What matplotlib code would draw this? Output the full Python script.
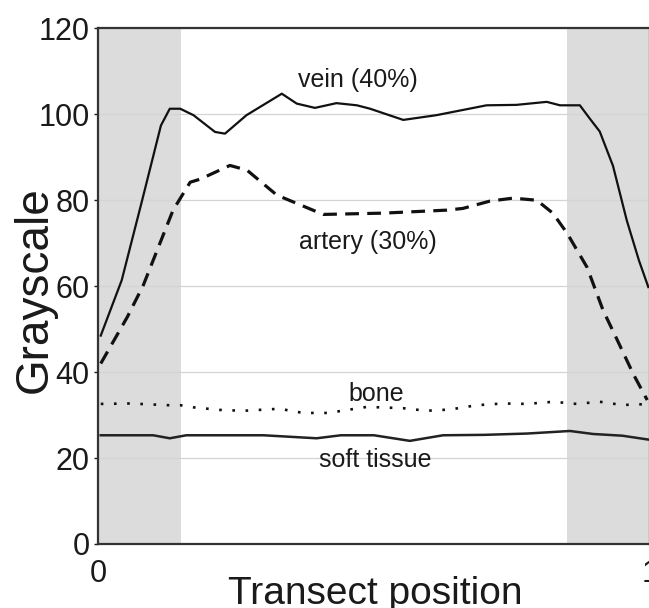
import matplotlib
matplotlib.use("Agg")
import matplotlib.pyplot as plt

plt.rcParams['font.family'] = ['Liberation Sans', 'DejaVu Sans']

# ---- data ----
vein_x = [0.005, 0.043, 0.08, 0.114, 0.13, 0.149, 0.173, 0.212, 0.23, 0.269, 0.333,
          0.36, 0.393, 0.432, 0.469, 0.493, 0.553, 0.613, 0.704, 0.758, 0.813, 0.837,
          0.873, 0.891, 0.909, 0.933, 0.958, 0.98, 0.997]
vein_y = [48.5, 61.4, 80, 97.4, 101.3, 101.3, 99.8, 95.9, 95.5, 99.8, 104.8,
          102.5, 101.5, 102.6, 102.1, 101.3, 98.7, 99.8, 102.1, 102.2, 102.9, 102.1,
          102.1, 99, 96, 88, 75.3, 66, 59.8]

artery_x = [0.005, 0.053, 0.082, 0.136, 0.167, 0.185, 0.239, 0.27, 0.324, 0.408, 0.516,
            0.632, 0.661, 0.71, 0.752, 0.795, 0.824, 0.85, 0.886, 0.915, 0.941, 0.97, 0.995]
artery_y = [42, 52.8, 60.2, 77.7, 84.2, 84.9, 88.1, 87, 81.2, 76.7, 77,
            77.7, 78.1, 79.8, 80.5, 80, 77, 72.3, 64.4, 54.4, 47.4, 39.5, 33.5]

bone_x = [0.005, 0.058, 0.127, 0.149, 0.173, 0.221, 0.263, 0.306, 0.33, 0.348, 0.372,
          0.417, 0.457, 0.487, 0.511, 0.553, 0.595, 0.638, 0.686, 0.734, 0.777, 0.825,
          0.867, 0.909, 0.952, 0.976, 0.997]
bone_y = [32.6, 32.7, 32.3, 32.3, 31.8, 31.2, 31, 31.3, 31.5, 31, 30.5,
          30.5, 31.3, 31.9, 31.8, 31.6, 31, 31.3, 32.3, 32.7, 32.6, 33.1,
          32.6, 33.1, 32.3, 32.6, 32.3]

soft_x = [0.005, 0.1, 0.13, 0.16, 0.3, 0.396, 0.44, 0.5, 0.565, 0.625, 0.7, 0.777,
          0.855, 0.897, 0.95, 0.997]
soft_y = [25.3, 25.3, 24.6, 25.3, 25.3, 24.6, 25.3, 25.3, 24.0, 25.3, 25.4, 25.7,
          26.3, 25.6, 25.2, 24.3]

shade_spans = [(0.0, 0.15), (0.85, 1.0)]
y_ticks = [0, 20, 40, 60, 80, 100, 120]
x_ticks = [0, 1]
x_ticklabels = ["0", "1"]

labels = ["vein (40%)", "artery (30%)", "bone", "soft tissue"]
label_x = [0.471, 0.489, 0.504, 0.502]
label_y = [107.9, 70.2, 34.9, 19.5]

# ---- figure ----
fig = plt.figure(figsize=(6.49, 6.08), dpi=100)
ax = fig.add_axes([0.151, 0.1053, 0.8505, 0.848])

for a, b in shade_spans:
    ax.axvspan(a, b, color='#dcdcdc', lw=0, zorder=0)

ax.set_xlim(0, 1)
ax.set_ylim(0, 120)
ax.set_yticks(y_ticks)
ax.set_xticks(x_ticks)
ax.set_xticklabels(x_ticklabels)
ax.yaxis.grid(True, color='#d4d4d4', lw=0.9, zorder=1)
ax.set_axisbelow(True)

ax.plot(vein_x, vein_y, color='#111111', lw=1.6, zorder=3)
ax.plot(artery_x, artery_y, color='#111111', lw=2.3, ls=(0, (4.3, 2.6)), zorder=3)
ax.plot(bone_x, bone_y, color='#111111', lw=1.9, ls=(0, (1, 4)), zorder=3)
ax.plot(soft_x, soft_y, color='#222222', lw=1.8, zorder=3)

for t, xx, yy in zip(labels, label_x, label_y):
    ax.text(xx, yy, t, ha='center', va='center', fontsize=18, color='#1a1a1a', zorder=4)

for s in ax.spines.values():
    s.set_color('#333333')
    s.set_linewidth(1.6)

ax.tick_params(axis='y', labelsize=22, length=3, width=1, pad=3, colors='#1a1a1a')
ax.tick_params(axis='x', labelsize=22, length=0, pad=11, colors='#1a1a1a')

fig.text(375 / 649, (608 - 604) / 608, "Transect position", ha='center', va='baseline',
         fontsize=28, color='#1a1a1a')
fig.text(47 / 649, 1 - 290 / 608, "Grayscale", ha='center', va='baseline', rotation=90,
         rotation_mode='anchor', fontsize=33, color='#1a1a1a')

fig.savefig("out.png", dpi=100)
